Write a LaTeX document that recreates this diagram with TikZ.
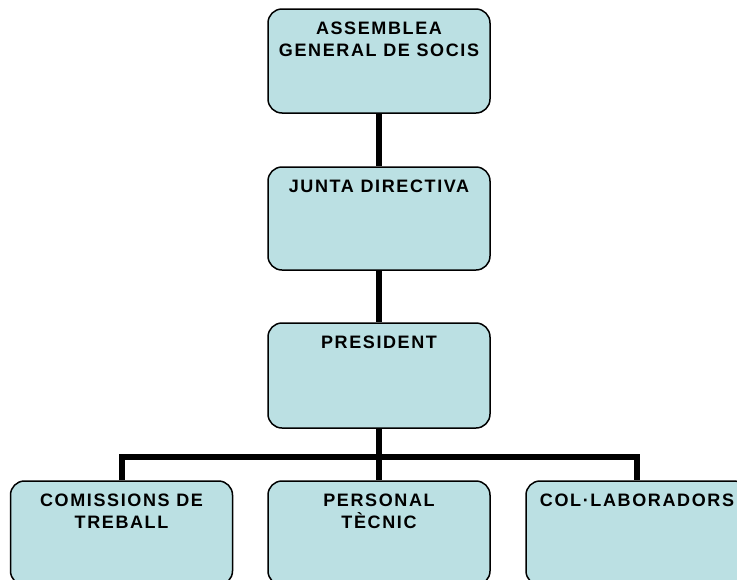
\documentclass[tikz,border=0pt]{standalone}
\usepackage{fontspec}
\newfontfamily\boxfont[LetterSpace=9]{Liberation Sans}
\definecolor{boxblue}{RGB}{187,224,227}
\begin{document}
\begin{tikzpicture}[x=1pt,y=-1pt,
  orgbox/.style={draw=black, line width=1.5pt, fill=boxblue, rounded corners=14pt,
    minimum width=222pt, inner sep=0pt, rectangle},
  orgtext/.style={anchor=north, inner sep=0pt, align=center,
    font=\boxfont\bfseries\fontsize{18}{22}\selectfont},
  conn/.style={line width=6pt, line join=miter, draw=black}]
\useasboundingbox (0,0) rectangle (737,579);
\clip (0,0) rectangle (737,579);
\node[orgbox, minimum height=104pt] (a) at (379,61) {};
\node[orgbox, minimum height=103pt] (j) at (379,218.5) {};
\node[orgbox, minimum height=105pt] (p) at (379,375.5) {};
\node[orgbox, minimum height=104pt] (c1) at (121.5,533) {};
\node[orgbox, minimum height=104pt] (c2) at (379,533) {};
\node[orgbox, minimum height=104pt] (c3) at (637,533) {};
\coordinate (bar) at (379,457);
\draw[conn] (a.south) -- (j.north);
\draw[conn] (j.south) -- (p.north);
\draw[conn] (p.south) -- (c2.north);
\draw[conn] (c1.north) |- (bar) -| (c3.north);
\node[orgtext] (ta) at ([yshift=-13pt]a.north) {ASSEMBLEA\\GENERAL DE SOCIS};
\node[orgtext] (tj) at ([yshift=-13pt]j.north) {JUNTA DIRECTIVA};
\node[orgtext] (tp) at ([yshift=-13pt]p.north) {PRESIDENT};
\node[orgtext] (t1) at ([yshift=-13pt]c1.north) {COMISSIONS DE\\TREBALL};
\node[orgtext] (t2) at ([yshift=-13pt]c2.north) {PERSONAL\\TÈCNIC};
\node[orgtext] (t3) at ([yshift=-13pt]c3.north) {COL·LABORADORS};
\end{tikzpicture}
\end{document}
